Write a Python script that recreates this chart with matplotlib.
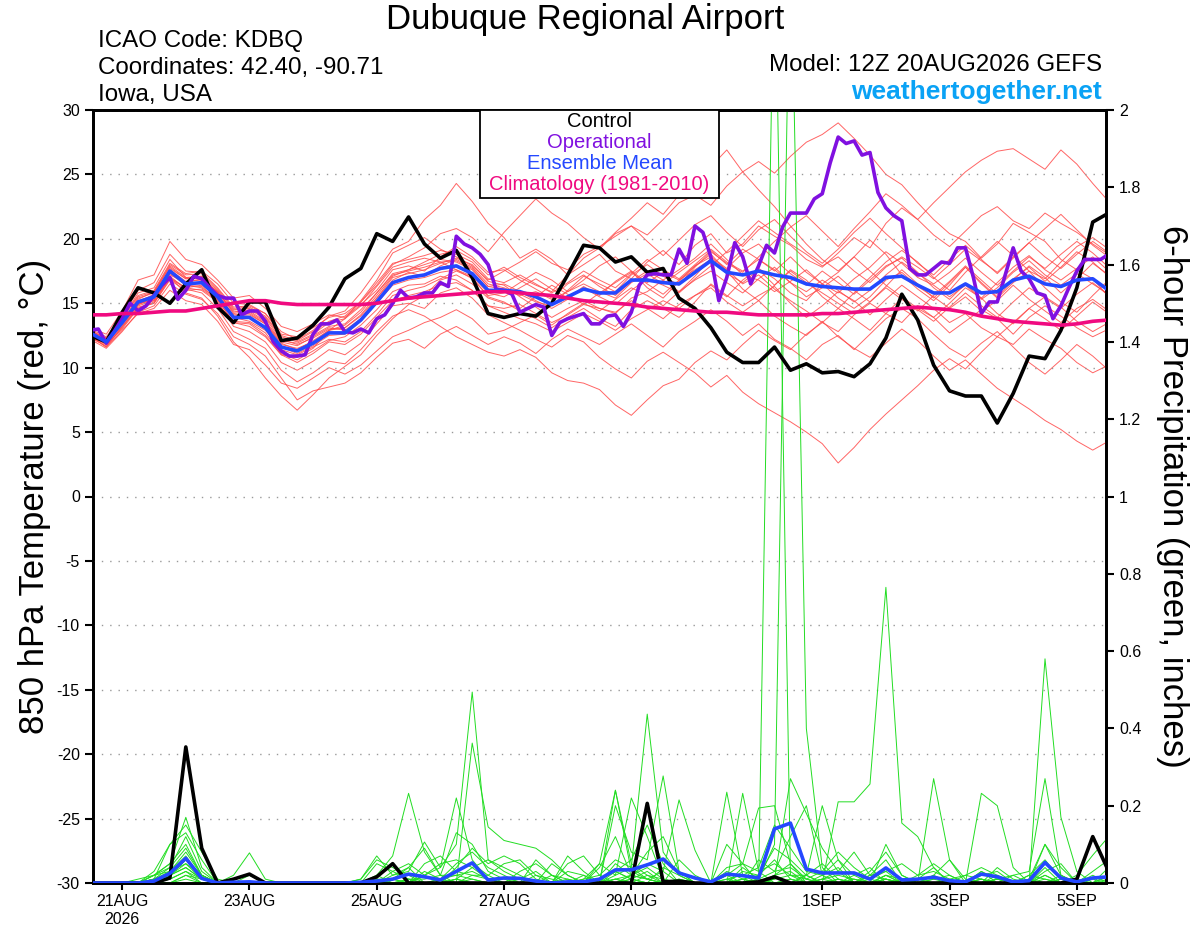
import numpy as np
import matplotlib
matplotlib.use('Agg')
import matplotlib.pyplot as plt
from matplotlib.patches import Rectangle

# forecast hours from 12Z 20AUG2026
hours = list(range(0, 385, 6))
hours_op = list(range(0, 385, 3))

tick_hours = [12, 60, 108, 156, 204, 276, 324, 372]
tick_labels = ['21AUG\n2026', '23AUG', '25AUG', '27AUG', '29AUG', '1SEP', '3SEP', '5SEP']

# 850 hPa temperature (C)
control_t = [12.5, 12.0, 14.3, 16.2, 15.8, 15.0, 16.5, 17.6, 14.7, 13.5, 15.1, 15.1, 12.1,
             12.3, 13.3, 14.7, 16.9, 17.7, 20.4, 19.8, 21.7, 19.6, 18.5, 19.1, 17.0, 14.2,
             13.9, 14.2, 14.0, 15.0, 17.2, 19.5, 19.3, 18.2, 18.6, 17.4, 17.7, 15.4, 14.6,
             13.1, 11.2, 10.4, 10.4, 11.6, 9.8, 10.3, 9.6, 9.7, 9.3, 10.3, 12.3, 15.7,
             13.7, 10.2, 8.2, 7.8, 7.8, 5.7, 8.0, 10.9, 10.7, 12.9, 16.2, 21.3, 22.0]

mean_t = [12.7, 12.0, 13.5, 15.1, 15.5, 17.5, 16.5, 16.6, 15.5, 13.9, 13.9, 13.1, 11.6,
          11.3, 11.9, 12.7, 12.7, 13.7, 15.1, 16.6, 17.0, 17.2, 17.7, 17.9, 17.3, 16.0,
          16.0, 15.9, 15.5, 14.9, 15.5, 16.1, 15.8, 15.8, 16.8, 16.8, 16.6, 16.5, 17.4,
          18.3, 17.4, 17.2, 17.5, 17.2, 17.0, 16.5, 16.3, 16.2, 16.1, 16.1, 17.0, 17.1,
          16.4, 15.8, 15.8, 16.5, 15.8, 15.9, 16.8, 17.1, 16.5, 16.3, 16.8, 16.9, 16.0]

clim_t = [14.1, 14.1, 14.2, 14.2, 14.3, 14.4, 14.4, 14.6, 14.8, 15.0, 15.2, 15.2, 15.0,
          14.9, 14.9, 14.9, 14.9, 14.9, 15.0, 15.2, 15.4, 15.5, 15.6, 15.7, 15.8, 15.9,
          15.9, 15.8, 15.7, 15.6, 15.4, 15.2, 15.1, 15.0, 14.9, 14.7, 14.6, 14.5, 14.4,
          14.3, 14.3, 14.2, 14.1, 14.1, 14.1, 14.1, 14.2, 14.2, 14.3, 14.4, 14.5, 14.6,
          14.7, 14.6, 14.5, 14.3, 14.0, 13.8, 13.6, 13.5, 13.4, 13.3, 13.4, 13.6, 13.7]

# operational run, 3-hourly
oper_t = [12.9, 13.0, 11.9, 12.8, 13.8, 15.0, 14.4, 14.8,
          15.6, 16.4, 17.0, 15.3, 16.0, 17.1, 16.9, 16.2,
          15.6, 15.4, 15.4, 14.1, 14.4, 14.4, 13.6, 12.0,
          11.3, 10.9, 10.9, 11.0, 12.6, 13.4, 13.4, 13.7,
          12.8, 12.7, 13.0, 12.7, 13.8, 14.1, 15.0, 16.0,
          15.4, 15.5, 15.8, 15.8, 16.6, 16.3, 20.2, 19.6,
          19.3, 18.8, 18.0, 16.1, 16.0, 15.7, 14.3, 14.6,
          14.9, 14.7, 12.5, 13.5, 13.8, 14.0, 14.2, 13.4,
          13.4, 14.0, 14.1, 13.2, 14.3, 16.4, 17.2, 17.3,
          17.2, 17.2, 19.2, 18.1, 21.0, 20.5, 18.6, 15.2,
          17.0, 19.7, 18.6, 16.5, 17.9, 19.5, 18.9, 20.9,
          22.0, 22.0, 22.0, 23.1, 23.5, 25.9, 27.9, 27.4,
          27.6, 26.5, 26.7, 23.6, 22.4, 21.8, 21.4, 17.7,
          17.2, 17.2, 17.7, 18.2, 18.1, 19.3, 19.3, 17.0,
          14.2, 15.1, 15.1, 17.2, 19.3, 17.5, 16.9, 15.8,
          15.6, 13.8, 14.8, 16.2, 17.5, 18.4, 18.4, 18.4,
          18.8]

members_t = [
    [12.9, 12.3, 13.8, 15.8, 16.2, 18.4, 17.0, 16.9, 15.0, 13.5, 13.2, 12.4, 11.0,
     10.8, 11.5, 12.9, 13.8, 15.2, 16.8, 18.9, 19.5, 20.1, 19.2, 18.6, 17.9, 16.8,
     17.5, 18.2, 19.0, 18.1, 17.6, 18.8, 19.4, 20.2, 21.0, 20.3, 21.5, 22.8, 23.4,
     22.6, 24.1, 25.2, 26.0, 25.1, 26.4, 27.5, 28.1, 29.0, 27.8, 26.5, 25.0, 24.2,
     22.8, 21.5, 20.4, 19.8, 18.5, 19.6, 21.2, 20.5, 19.8, 18.4, 17.6, 16.9, 15.5],
    [12.4, 11.8, 13.0, 14.6, 15.0, 16.9, 16.2, 16.0, 15.1, 13.2, 12.8, 12.0, 10.4,
     9.8, 10.5, 11.4, 11.0, 11.9, 13.4, 14.8, 15.0, 14.6, 15.8, 16.2, 15.4, 14.1,
     13.5, 12.9, 12.2, 11.6, 12.5, 12.0, 10.8, 9.9, 9.2, 10.5, 11.2, 10.4, 9.6,
     8.5, 9.4, 8.1, 7.2, 6.5, 5.8, 5.0, 4.1, 2.6, 3.8, 5.2, 6.4, 7.5,
     8.6, 9.8, 10.7, 9.9, 11.2, 12.4, 11.8, 13.0, 12.2, 11.5, 10.4, 9.6, 10.2],
    [12.5, 11.6, 13.2, 14.8, 15.2, 17.1, 16.1, 15.8, 14.6, 12.8, 12.2, 11.5, 9.8,
     8.9, 9.6, 10.5, 10.3, 11.4, 12.8, 14.0, 14.5, 14.0, 13.2, 12.4, 11.8, 11.2,
     10.9, 11.4, 10.8, 9.6, 9.0, 8.8, 8.3, 7.1, 6.3, 7.5, 8.6, 9.1, 10.4,
     11.3, 10.6, 11.8, 12.9, 12.1, 11.4, 12.6, 13.5, 12.8, 14.1, 15.0, 14.2, 13.5,
     14.8, 13.9, 12.7, 13.6, 14.5, 13.8, 12.6, 13.9, 14.8, 14.0, 13.1, 12.4, 13.0],
    [13.0, 12.4, 14.0, 16.0, 16.6, 18.8, 17.5, 17.4, 16.2, 14.7, 14.8, 14.2, 12.8,
     12.2, 12.9, 14.0, 14.4, 15.8, 17.5, 19.2, 19.8, 21.5, 22.6, 24.3, 22.9, 21.2,
     20.1, 18.5, 19.2, 18.4, 17.2, 18.0, 18.8, 17.5, 16.9, 18.2, 19.1, 18.0, 19.5,
     20.4, 18.9, 19.6, 21.0, 20.2, 19.5, 18.4, 17.8, 18.9, 20.1, 19.3, 21.2, 22.4,
     21.5, 20.3, 19.4, 20.6, 21.8, 22.5, 21.4, 20.8, 22.0, 21.2, 20.5, 19.6, 18.8],
    [12.6, 12.1, 13.6, 15.3, 15.9, 17.8, 16.9, 16.9, 15.9, 14.2, 14.4, 13.6, 12.1,
     11.9, 12.5, 13.2, 13.4, 14.5, 15.8, 17.3, 17.6, 18.2, 18.8, 19.1, 18.4, 17.2,
     17.8, 17.0, 16.4, 15.9, 17.2, 18.5, 19.3, 20.5, 21.6, 22.8, 21.9, 23.4, 24.8,
     25.6, 26.9, 25.2, 23.8, 22.5, 21.0, 19.6, 18.4, 17.5, 18.6, 19.9, 18.8, 17.2,
     16.1, 15.2, 16.4, 17.8, 16.5, 15.4, 16.6, 17.5, 16.2, 15.1, 14.3, 15.6, 16.8],
    [12.8, 12.0, 13.4, 14.9, 15.4, 17.2, 16.6, 16.9, 15.8, 14.4, 14.3, 13.5, 12.0,
     11.7, 12.4, 13.1, 12.9, 13.8, 15.4, 16.8, 17.4, 17.1, 17.9, 18.4, 17.8, 16.5,
     16.2, 15.7, 15.1, 14.8, 16.0, 17.1, 16.5, 15.9, 17.2, 18.0, 17.1, 16.4, 17.8,
     19.0, 18.1, 17.4, 18.6, 19.8, 20.9, 21.8, 20.6, 19.4, 20.8, 22.1, 23.5, 22.6,
     21.5, 22.8, 24.0, 25.2, 26.1, 26.8, 27.0, 26.2, 25.4, 26.9, 25.8, 24.3, 22.9],
    [12.3, 11.7, 13.1, 14.7, 15.0, 16.8, 16.0, 16.1, 15.2, 13.6, 13.5, 12.7, 11.1,
     10.6, 11.3, 12.1, 12.4, 13.3, 14.5, 15.9, 16.4, 16.5, 17.1, 16.8, 16.0, 14.8,
     14.6, 14.9, 14.2, 13.5, 14.1, 14.9, 14.6, 14.3, 15.2, 14.6, 13.8, 14.9, 15.6,
     16.2, 15.1, 14.3, 15.2, 14.0, 13.2, 12.5, 13.6, 12.4, 11.5, 10.8, 11.9, 13.0,
     12.1, 10.9, 9.8, 10.6, 9.5, 8.4, 7.6, 6.8, 5.9, 5.2, 4.3, 3.6, 4.3],
    [12.7, 12.2, 13.7, 15.4, 15.8, 17.9, 17.0, 17.1, 16.0, 14.5, 14.6, 13.9, 12.4,
     12.0, 12.6, 13.5, 13.8, 14.8, 16.3, 17.8, 18.2, 18.5, 18.2, 17.6, 16.9, 15.6,
     15.8, 16.6, 17.4, 16.8, 15.9, 16.8, 17.9, 18.6, 17.5, 16.2, 15.4, 16.7, 17.9,
     18.8, 17.5, 16.1, 15.2, 16.4, 17.6, 16.8, 15.5, 14.6, 15.8, 17.0, 18.2, 19.1,
     18.2, 17.0, 16.0, 17.4, 18.6, 19.8, 18.7, 17.5, 16.9, 18.2, 19.4, 20.1, 19.2],
    [12.5, 11.9, 13.3, 14.9, 15.6, 17.4, 16.4, 16.3, 15.3, 13.9, 13.6, 12.9, 11.4,
     11.0, 11.6, 12.2, 12.0, 12.8, 14.1, 15.6, 16.0, 16.3, 16.9, 17.5, 17.0, 15.5,
     15.1, 14.4, 13.8, 13.1, 13.9, 14.6, 13.8, 13.2, 14.5, 15.2, 14.6, 13.9, 15.1,
     16.5, 15.6, 14.8, 15.6, 16.3, 15.0, 13.9, 14.8, 15.9, 15.2, 14.1, 15.3, 16.4,
     15.5, 14.6, 13.5, 14.2, 13.1, 12.4, 13.5, 14.6, 13.8, 12.9, 14.0, 15.1, 14.2],
    [12.9, 12.2, 13.9, 15.6, 16.0, 18.1, 17.3, 17.5, 16.5, 15.0, 14.9, 14.2, 12.6,
     12.4, 13.1, 13.9, 14.2, 15.1, 16.4, 18.0, 18.6, 19.3, 20.4, 20.8, 20.1, 19.0,
     20.5, 21.8, 23.1, 22.0, 21.2, 20.1, 19.2, 20.4, 21.0, 19.8, 18.7, 19.9, 21.1,
     21.8, 20.5, 19.4, 20.7, 21.5, 20.2, 19.0, 18.1, 19.2, 20.5, 21.6, 20.4, 19.3,
     18.1, 17.2, 18.4, 19.5, 18.4, 17.3, 18.5, 19.7, 20.8, 21.9, 20.7, 19.5, 18.6],
    [12.6, 11.9, 13.4, 14.9, 15.3, 17.3, 16.4, 16.2, 15.3, 13.5, 13.4, 12.5, 11.0,
     10.4, 11.1, 12.0, 11.8, 12.6, 13.9, 15.2, 15.6, 15.9, 16.4, 16.6, 16.0, 14.8,
     14.3, 13.8, 13.4, 12.8, 13.5, 14.2, 13.6, 12.9, 13.8, 14.5, 15.2, 14.6, 15.6,
     16.4, 15.5, 16.8, 17.7, 16.9, 15.8, 15.2, 16.5, 17.4, 18.6, 17.5, 16.4, 15.5,
     14.6, 13.9, 15.0, 16.2, 15.4, 14.2, 13.4, 14.6, 15.5, 14.7, 13.6, 12.8, 13.5],
    [12.2, 11.5, 12.8, 14.3, 14.8, 16.5, 15.7, 15.3, 14.2, 12.4, 11.8, 10.9, 9.2,
     7.5, 8.2, 8.5, 8.8, 9.6, 10.8, 11.9, 12.2, 11.5, 12.6, 13.2, 12.5, 11.8,
     12.4, 11.9, 11.1, 12.2, 13.0, 12.4, 11.8, 12.6, 13.4, 12.5, 11.6, 12.8, 13.6,
     14.5, 13.6, 12.5, 13.4, 12.2, 11.5, 10.6, 11.8, 12.5, 11.4, 12.6, 13.8, 14.6,
     13.8, 12.6, 11.5, 10.8, 11.9, 12.8, 11.6, 10.4, 9.5, 10.6, 11.8, 10.9, 9.8],
    [12.4, 11.6, 12.9, 14.2, 14.6, 16.0, 15.2, 14.9, 13.6, 11.8, 11.4, 10.2, 8.8,
     8.4, 9.2, 10.0, 9.5, 10.2, 11.3, 12.4, 12.9, 13.5, 13.9, 14.5, 13.8, 12.6,
     12.9, 13.5, 14.1, 13.3, 14.2, 15.0, 14.4, 15.3, 16.2, 15.6, 14.8, 15.9, 16.8,
     17.5, 16.6, 15.8, 16.9, 17.8, 16.6, 15.5, 16.2, 17.1, 16.0, 15.1, 16.3, 17.6,
     16.5, 15.4, 16.6, 17.8, 16.6, 15.5, 16.8, 17.9, 17.0, 15.8, 16.9, 18.1, 17.2],
    [12.8, 12.1, 13.5, 15.0, 15.2, 17.0, 15.8, 15.4, 14.0, 12.0, 10.8, 9.2, 7.8,
     6.7, 7.9, 9.2, 10.1, 11.0, 12.5, 13.8, 14.9, 15.6, 16.8, 17.2, 16.5, 15.4,
     15.0, 14.6, 15.5, 16.4, 15.7, 14.9, 15.8, 16.6, 17.4, 16.5, 15.7, 16.8, 17.9,
     18.6, 17.7, 18.9, 19.6, 18.4, 17.3, 16.4, 17.5, 16.6, 15.7, 16.8, 17.9, 18.5,
     17.4, 16.2, 15.3, 16.5, 15.4, 16.6, 17.8, 18.7, 17.6, 16.8, 17.7, 18.6, 17.5],
    [13.1, 12.6, 14.4, 16.8, 17.2, 19.8, 18.4, 18.0, 16.8, 15.4, 15.6, 14.6, 13.2,
     12.8, 13.4, 14.1, 13.9, 14.9, 16.0, 17.6, 17.9, 17.5, 18.6, 19.4, 18.6, 17.4,
     17.6, 16.8, 16.1, 15.4, 16.5, 17.2, 16.3, 15.6, 16.7, 17.5, 16.8, 15.9, 17.1,
     18.5, 17.6, 16.5, 17.2, 16.1, 15.2, 14.4, 13.5, 14.6, 13.8, 12.9, 14.2, 15.4,
     14.4, 15.6, 16.7, 17.9, 16.8, 15.7, 16.9, 17.8, 16.7, 17.8, 19.0, 18.2, 17.1],
    [12.7, 12.0, 13.6, 15.2, 15.6, 17.6, 16.7, 16.8, 15.9, 14.3, 14.5, 13.8, 12.2,
     11.8, 12.3, 13.0, 13.1, 14.1, 15.6, 17.1, 17.6, 18.0, 18.4, 18.2, 17.6, 16.3,
     16.5, 15.9, 15.2, 14.6, 15.3, 16.2, 15.5, 14.9, 16.0, 16.9, 16.4, 15.8, 16.9,
     17.9, 19.0, 20.2, 21.4, 20.5, 19.6, 18.8, 17.9, 18.6, 17.5, 16.6, 17.8, 18.6,
     17.8, 16.9, 18.0, 19.2, 18.3, 17.4, 18.6, 19.7, 18.6, 17.7, 18.8, 19.8, 18.9],
    [12.6, 12.1, 13.5, 15.0, 15.5, 17.5, 16.6, 16.5, 15.6, 14.1, 14.2, 13.4, 11.8,
     11.5, 12.0, 12.9, 13.1, 14.0, 15.4, 17.0, 17.3, 17.6, 18.1, 18.5, 18.0, 16.7,
     16.4, 15.5, 14.7, 13.9, 14.6, 15.2, 14.6, 14.2, 15.4, 15.9, 16.8, 17.6, 18.5,
     19.6, 18.4, 17.2, 16.8, 15.9, 16.7, 17.6, 16.5, 15.4, 14.6, 15.5, 16.8, 17.4,
     16.3, 15.5, 14.6, 15.5, 14.4, 15.2, 16.4, 15.3, 14.4, 13.5, 14.6, 15.3, 14.4],
    [12.8, 12.3, 13.9, 15.5, 15.9, 18.0, 17.2, 17.3, 16.1, 14.6, 14.7, 14.0, 12.5,
     12.1, 12.8, 13.6, 14.0, 15.1, 16.6, 18.1, 18.4, 18.7, 19.1, 18.8, 18.2, 16.9,
     16.6, 17.2, 16.5, 15.8, 16.6, 17.5, 16.8, 16.2, 17.3, 18.4, 17.6, 16.9, 18.0,
     19.1, 18.0, 19.2, 18.4, 17.5, 18.6, 17.4, 16.5, 15.8, 16.9, 17.8, 19.0, 18.1,
     17.0, 16.4, 15.5, 16.4, 15.3, 16.2, 17.4, 18.3, 17.2, 16.4, 17.3, 16.5, 15.7],
    [12.5, 11.8, 13.2, 14.6, 15.1, 17.0, 16.2, 16.4, 15.5, 13.8, 13.9, 13.0, 11.6,
     11.1, 11.7, 12.5, 12.6, 13.6, 15.0, 16.4, 16.8, 17.0, 17.4, 17.6, 17.1, 15.8,
     15.5, 16.2, 16.9, 16.1, 15.4, 16.3, 15.6, 16.7, 17.5, 16.6, 17.4, 16.8, 17.6,
     18.4, 17.3, 16.6, 17.6, 16.4, 17.5, 16.6, 15.8, 15.0, 14.2, 15.1, 16.2, 15.3,
     14.5, 13.6, 14.7, 15.8, 14.8, 13.9, 15.1, 16.2, 15.4, 14.6, 15.7, 16.6, 15.6],
    [12.7, 12.1, 13.6, 15.1, 15.7, 17.7, 16.9, 17.1, 15.8, 14.0, 14.1, 13.4, 11.9,
     11.4, 12.1, 12.9, 13.3, 14.3, 15.8, 17.2, 17.5, 17.8, 18.2, 18.3, 17.7, 16.3,
     16.1, 15.6, 15.9, 15.3, 15.9, 16.5, 15.9, 15.4, 16.6, 17.3, 16.5, 17.4, 18.3,
     19.2, 18.2, 17.5, 18.4, 17.6, 16.6, 15.9, 16.8, 16.0, 15.1, 16.0, 17.2, 18.2,
     17.3, 16.5, 17.4, 18.5, 17.4, 16.4, 17.5, 18.6, 17.7, 18.8, 19.8, 18.9, 17.8],
]

# 6-hour precipitation (inches)
control_p = [0, 0, 0, 0, 0, 0.013, 0.352, 0.09, 0, 0.01, 0.023, 0, 0,
             0, 0, 0, 0, 0, 0.016, 0.05, 0, 0, 0, 0, 0, 0,
             0, 0, 0, 0, 0, 0, 0, 0, 0, 0.206, 0.003, 0.005, 0,
             0, 0, 0, 0.003, 0.016, 0, 0, 0, 0, 0, 0, 0, 0,
             0, 0, 0, 0, 0, 0, 0, 0, 0, 0, 0.01, 0.12, 0.03]

mean_p = [0, 0, 0, 0, 0.005, 0.025, 0.064, 0.012, 0, 0.002, 0.003, 0, 0,
          0, 0, 0, 0, 0.002, 0.005, 0.01, 0.023, 0.016, 0.008, 0.03, 0.052, 0.008,
          0.013, 0.012, 0.005, 0, 0.003, 0.003, 0.01, 0.034, 0.034, 0.047, 0.062, 0.026, 0.013,
          0.003, 0.023, 0.019, 0.013, 0.14, 0.155, 0.036, 0.026, 0.026, 0.026, 0.01, 0.039, 0.008,
          0.01, 0.015, 0.006, 0.003, 0.023, 0.016, 0.003, 0.006, 0.053, 0.013, 0.003, 0.013, 0.016]

members_p = [
    [0, 0, 0, 0, .02, .05, .17, .04, 0, 0, 0, 0, 0,
     0, 0, 0, 0, 0, 0, 0, 0, .02, .04, .10, .494, .06,
     .03, .01, 0, 0, 0, 0, 0, .02, .04, .437, .08, .02, 0,
     0, .02, .05, 0, 2.5, .02, .02, 0, 0, 0, .03, .08, .02,
     0, .02, 0, 0, .03, 0, 0, 0, .10, .04, 0, 0, 0],
    [0, 0, 0, 0, .01, .10, .15, .08, .01, 0, 0, 0, 0,
     0, 0, 0, 0, 0, .02, .07, .232, .08, .02, 0, .362, .145,
     .11, .10, .09, .06, .02, 0, 0, 0, .01, .03, 0, 0, 0,
     0, 0, .04, .01, .10, 2.5, .40, .04, 0, .01, 0, .02, 0,
     .01, .04, 0, 0, 0, .02, 0, 0, .58, .17, .03, 0, .02],
    [0, 0, 0, 0, .03, .10, .13, .06, 0, 0, 0, 0, 0,
     0, 0, 0, 0, .01, .07, .02, .03, .106, .04, .22, .06, .01,
     0, 0, 0, 0, 0, .01, .05, .24, .03, .01, 0, 0, 0,
     0, .235, .02, 0, .01, .27, .18, .09, .03, 0, 0, .01, 0,
     0, .27, .06, 0, 0, 0, .02, .03, .27, .02, 0, 0, 0],
    [0, 0, 0, 0, .01, .04, .12, .03, 0, .02, .078, .01, 0,
     0, 0, 0, 0, 0, .01, 0, 0, .05, .07, .03, .05, .02,
     .05, .06, .02, 0, .07, .03, 0, .20, .08, .06, .277, .03, 0,
     0, 0, .232, .03, 0, 0, .02, .20, .06, 0, 0, .02, .01,
     0, 0, 0, 0, .232, .20, .04, 0, 0, 0, .02, .072, .12],
    [0, 0, 0, .01, .02, .05, .10, .02, 0, 0, .02, 0, 0,
     0, 0, 0, 0, 0, .05, .03, .01, 0, .01, .05, .08, .04,
     .02, 0, .06, .02, 0, 0, .05, .02, .22, .12, .01, 0, 0,
     0, .04, .05, .194, .20, .05, 0, 0, .21, .21, .256, .765, .155,
     .12, .04, 0, 0, 0, .01, 0, 0, .04, 0, 0, 0, .02],
    [0, 0, 0, 0, .02, .04, .09, .02, 0, 0, 0, 0, 0,
     0, 0, 0, 0, 0, 0, .01, .04, .09, .02, .13, .10, .03,
     .01, 0, 0, 0, .05, .07, .02, 0, .02, .05, .03, .215, .085,
     0, 0, .03, .02, .09, .06, .02, .05, .01, 0, .02, .03, .05,
     .02, .03, .01, .02, .04, .02, 0, .02, .06, .01, 0, 0, 0],
    [0, 0, 0, 0, .01, .03, .08, .02, 0, 0, 0, 0, 0,
     0, 0, 0, 0, .01, .06, .04, .02, 0, 0, .04, .09, .05,
     .07, .05, .01, 0, .03, .02, 0, .24, .05, .02, 0, .06, .02,
     0, 0, 0, .06, .03, .12, .20, .02, 0, 0, .02, .06, 0,
     0, .01, 0, 0, .01, 0, 0, .01, .10, .02, 0, .02, 0],
    [0, 0, 0, 0, 0, .03, .07, .01, 0, 0, 0, 0, 0,
     0, 0, 0, 0, 0, 0, .03, .05, .02, .05, .06, .04, .01,
     0, .03, .05, .02, 0, 0, .01, .03, .06, .15, .05, 0, 0,
     0, .03, .01, 0, .02, .05, .01, .03, .08, .04, .01, .03, 0,
     .02, .05, .02, 0, .02, .03, 0, 0, .02, 0, .01, 0, 0],
    [0, 0, 0, 0, .01, .02, .06, .02, 0, 0, 0, 0, 0,
     0, 0, 0, 0, 0, .02, 0, 0, .03, .01, .02, .03, .01,
     0, 0, 0, 0, 0, 0, 0, .05, .02, .08, .12, .03, 0,
     0, .10, .05, .03, .05, .02, 0, .02, .04, 0, 0, .10, .02,
     0, .02, .06, .01, 0, .04, .01, 0, .03, .05, 0, .01, 0],
    [0, 0, 0, 0, 0, .02, .06, .02, 0, 0, 0, 0, 0,
     0, 0, 0, 0, 0, 0, .02, .04, 0, 0, .01, .04, .06,
     .04, .02, 0, .05, .02, 0, .01, .03, .01, 0, .04, .02, 0,
     0, .01, .02, .04, .15, .09, .03, .02, .06, .02, .04, 0, .01,
     0, 0, 0, .02, .01, 0, 0, .01, 0, .02, 0, 0, .04],
    [0, 0, 0, 0, .02, .03, .05, .01, 0, 0, 0, 0, 0,
     0, 0, 0, 0, 0, .01, .01, 0, .02, 0, .03, .02, .02,
     0, .01, .03, 0, 0, 0, .04, .12, .02, .01, .03, 0, 0,
     0, 0, .01, .02, .06, .01, 0, .01, .03, .08, .02, .01, 0,
     0, .01, .02, 0, .03, .01, 0, 0, .05, .01, 0, .03, .06],
    [0, 0, 0, 0, .01, .02, .05, .02, 0, 0, 0, 0, 0,
     0, 0, 0, 0, 0, 0, 0, .01, .01, .02, .02, .01, 0,
     0, 0, .02, .01, 0, .01, .02, .06, .04, .01, 0, 0, 0,
     0, .02, 0, .01, .03, .04, .01, 0, .01, 0, 0, .01, 0,
     0, 0, 0, 0, .01, 0, 0, .02, .01, 0, 0, 0, .01],
    [0, 0, 0, 0, .01, .02, .04, .01, 0, 0, 0, 0, 0,
     0, 0, 0, 0, 0, 0, .01, 0, 0, .01, 0, .02, .01,
     0, 0, 0, .02, .01, 0, 0, .01, .02, .04, .01, 0, 0,
     0, 0, .01, 0, .02, .03, 0, .01, .02, .01, 0, .02, 0,
     .01, 0, 0, 0, 0, .01, .02, 0, 0, .01, 0, 0, 0],
    [0, 0, 0, 0, 0, .02, .04, .01, 0, 0, 0, 0, 0,
     0, 0, 0, 0, 0, 0, 0, 0, .02, 0, .01, 0, 0,
     0, 0, 0, 0, 0, .02, 0, .03, .01, 0, 0, .01, 0,
     0, 0, 0, 0, .01, .02, .01, 0, 0, .02, 0, 0, 0,
     0, 0, .01, 0, 0, 0, 0, 0, .02, 0, 0, 0, 0],
    [0, 0, 0, 0, 0, .01, .03, .01, 0, 0, 0, 0, 0,
     0, 0, 0, 0, 0, .01, 0, 0, 0, 0, 0, .01, 0,
     0, 0, 0, 0, .01, 0, 0, .01, 0, .02, .01, 0, 0,
     0, .01, 0, 0, 0, .01, 0, 0, .01, 0, .01, 0, 0,
     0, 0, 0, 0, .01, 0, 0, 0, 0, .01, 0, 0, 0],
    [0, 0, 0, 0, 0, .01, .03, 0, 0, 0, 0, 0, 0,
     0, 0, 0, 0, 0, 0, 0, 0, 0, 0, .01, 0, 0,
     0, 0, 0, 0, 0, 0, .01, 0, .02, .01, 0, 0, 0,
     0, 0, 0, .01, 0, 0, .02, 0, 0, 0, 0, .01, 0,
     0, 0, 0, 0, 0, 0, 0, 0, .01, 0, 0, 0, 0],
    [0, 0, 0, 0, 0, 0, .02, .01, 0, 0, 0, 0, 0,
     0, 0, 0, 0, 0, 0, 0, .01, 0, 0, 0, 0, 0,
     0, 0, 0, 0, 0, 0, 0, 0, .01, 0, 0, .01, 0,
     0, 0, .01, 0, 0, .01, 0, 0, 0, 0, 0, 0, 0,
     0, 0, 0, 0, 0, .01, 0, 0, 0, 0, 0, 0, 0],
    [0, 0, 0, 0, 0, 0, .02, 0, 0, 0, 0, 0, 0,
     0, 0, 0, 0, 0, 0, 0, 0, 0, 0, 0, 0, 0,
     0, 0, 0, 0, 0, 0, 0, 0, 0, 0, 0, 0, 0,
     0, 0, 0, 0, 0, 0, 0, .01, 0, 0, 0, 0, 0,
     0, 0, 0, 0, 0, 0, 0, 0, 0, 0, 0, 0, 0],
    [0, 0, 0, 0, 0, 0, .01, 0, 0, 0, 0, 0, 0,
     0, 0, 0, 0, 0, 0, 0, 0, 0, 0, 0, 0, 0,
     0, 0, 0, 0, 0, 0, 0, .01, 0, 0, 0, 0, 0,
     0, 0, 0, 0, 0, 0, 0, 0, 0, 0, 0, 0, 0,
     0, 0, 0, 0, 0, 0, 0, 0, 0, 0, 0, 0, 0],
    [0, 0, 0, 0, 0, 0, 0, 0, 0, 0, 0, 0, 0,
     0, 0, 0, 0, 0, 0, 0, 0, 0, 0, 0, 0, 0,
     0, 0, 0, 0, 0, 0, 0, 0, 0, 0, 0, 0, 0,
     0, 0, 0, .01, 0, 0, 0, 0, 0, 0, 0, 0, 0,
     0, 0, 0, 0, 0, 0, 0, 0, 0, 0, 0, 0, 0],
]

legend_labels = ['Control', 'Operational', 'Ensemble Mean', 'Climatology (1981-2010)']

for s in [control_t, mean_t, clim_t, control_p, mean_p] + members_t + members_p:
    assert len(s) == len(hours)
assert len(oper_t) == len(hours_op)

RED = '#ff4a4a'
GREEN = '#22dd22'
BLACK = '#000000'
PURPLE = '#8010e0'
BLUE = '#2448ff'
MAGENTA = '#f00a80'
legend_colors = [BLACK, PURPLE, BLUE, MAGENTA]

plt.rcParams['font.family'] = ['Liberation Sans', 'DejaVu Sans']
plt.rcParams['axes.unicode_minus'] = False

fig = plt.figure(figsize=(12, 9.27), dpi=100)
ax = fig.add_axes([93 / 1200, 44 / 927, 1013 / 1200, 773 / 927])
ax2 = ax.twinx()
ax.set_zorder(ax2.get_zorder() + 1)
ax.patch.set_visible(False)

ax.set_xlim(1, 383)
ax.set_ylim(-30, 30)
ax2.set_ylim(0, 2)

# ensemble members (temperature) at the back
for m in members_t:
    ax.plot(hours, m, color=RED, lw=0.7, alpha=0.85, zorder=1)

# precipitation drawn in ax so it can sit between the layers, scaled by ax2
for m in members_p:
    ax.plot(hours, m, color=GREEN, lw=0.7, zorder=2, transform=ax2.transData)
ax.plot(hours, control_p, color=BLACK, lw=2.6, zorder=3, transform=ax2.transData)
ax.plot(hours, mean_p, color=BLUE, lw=2.6, zorder=3, transform=ax2.transData)

ax.plot(hours, control_t, color=BLACK, lw=2.6, zorder=4)
ax.plot(hours_op, oper_t, color=PURPLE, lw=2.6, zorder=5)
ax.plot(hours, mean_t, color=BLUE, lw=2.6, zorder=6)
ax.plot(hours, clim_t, color=MAGENTA, lw=2.6, zorder=6)

# axes styling
ax.set_yticks(range(-30, 31, 5))
ax.yaxis.grid(True, linestyle=(0, (1, 5)), color='#999999', lw=1)
ax.set_xticks(tick_hours, tick_labels)
ax.tick_params(axis='x', direction='out', length=5, width=1.5, labelsize=11.5, pad=3)
ax.tick_params(axis='y', direction='out', length=6, width=1.5, labelsize=11.5)
ax2.set_yticks(np.arange(0, 2.01, 0.2))
ax2.set_yticklabels(['0', '0.2', '0.4', '0.6', '0.8', '1', '1.2', '1.4', '1.6', '1.8', '2'])
ax2.tick_params(axis='y', direction='out', length=6, width=1.5, labelsize=11.5)
for a in (ax, ax2):
    for sp in a.spines.values():
        sp.set_linewidth(2)

# legend box with centred coloured labels
ax.add_patch(Rectangle((0.382, 0.886), 0.236, 0.114, transform=ax.transAxes,
                       facecolor='white', edgecolor='black', lw=1.3, zorder=10))
for lab, col, yy in zip(legend_labels, legend_colors, [0.9855, 0.958, 0.931, 0.903]):
    ax.text(0.5, yy, lab, color=col, fontsize=14.5, ha='center', va='center',
            transform=ax.transAxes, zorder=11)

# header text
fig.text(585 / 1200, 1 - 20 / 927, 'Dubuque Regional Airport', fontsize=25,
         ha='center', va='center')
fig.text(98 / 1200, 1 - 41 / 927, 'ICAO Code: KDBQ', fontsize=17.4, va='center')
fig.text(98 / 1200, 1 - 68 / 927, 'Coordinates: 42.40, -90.71', fontsize=17.4, va='center')
fig.text(98 / 1200, 1 - 95 / 927, 'Iowa, USA', fontsize=17.4, va='center')
fig.text(1102 / 1200, 1 - 65 / 927, 'Model: 12Z 20AUG2026 GEFS', fontsize=17.4,
         ha='right', va='center')
fig.text(1102 / 1200, 1 - 92 / 927, 'weathertogether.net', fontsize=19,
         fontweight='bold', color='#0aa2f5', ha='right', va='center')

fig.text(35 / 1200, 1 - 496 / 927, '850 hPa Temperature (red, \u00b0C)', fontsize=25,
         rotation=90, ha='center', va='center')
fig.text(1172 / 1200, 1 - 496 / 927, '6-hour Precipitation (green, inches)', fontsize=25,
         rotation=270, ha='center', va='center')

fig.savefig('out.png', dpi=100)
